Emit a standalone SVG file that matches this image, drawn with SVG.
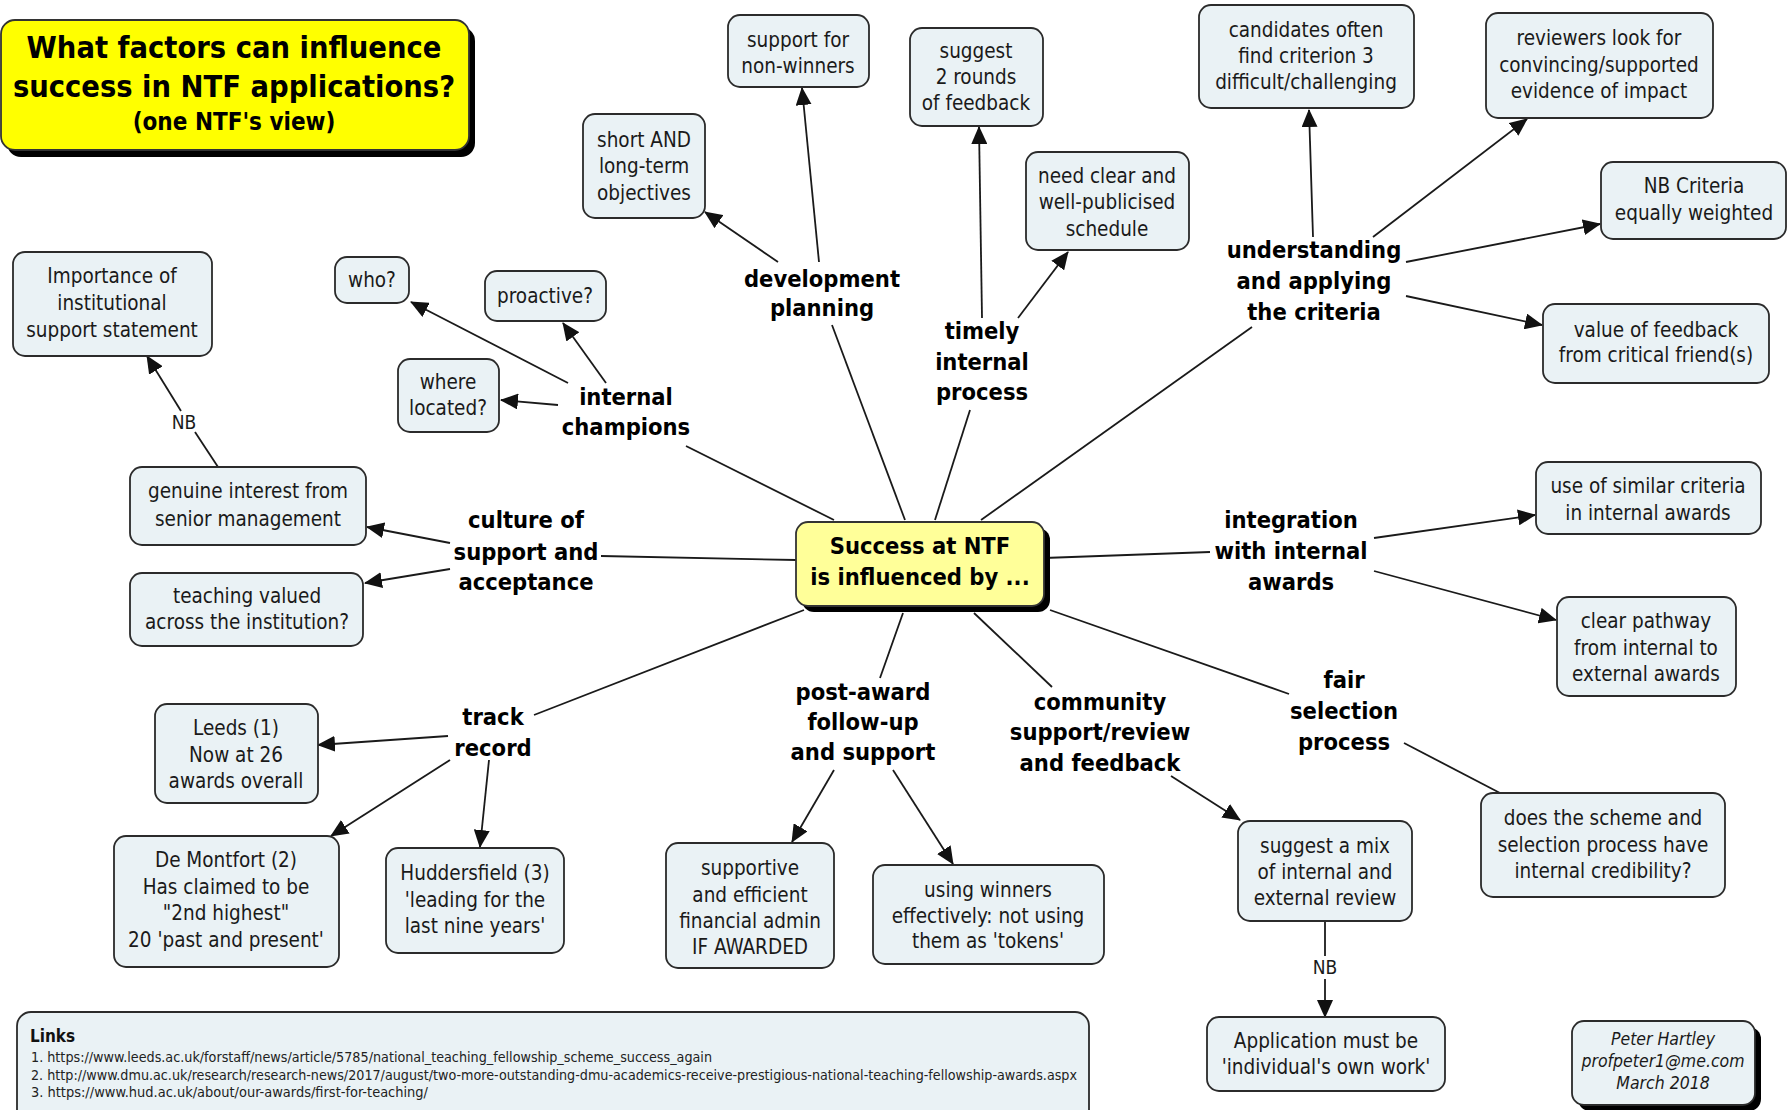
<svg xmlns="http://www.w3.org/2000/svg" width="1792" height="1110" viewBox="0 0 1792 1110">
<defs>
<marker id="ah" markerUnits="userSpaceOnUse" viewBox="0 0 18 16" refX="17" refY="8" markerWidth="18" markerHeight="16" orient="auto">
<path d="M0,0 L18,8 L0,16 z" fill="#111"/>
</marker>
</defs>
<style>
.n rect{fill:#EAF2F5;stroke:#2b2b2b;stroke-width:1.8}
.t{font-family:"DejaVu Sans Condensed","DejaVu Sans",Verdana,sans-serif;font-stretch:condensed;font-size:20.5px;fill:#1a1a1a;text-anchor:middle}
.l{font-family:"DejaVu Sans Condensed","DejaVu Sans",Verdana,sans-serif;font-stretch:condensed;font-weight:bold;font-size:23.5px;fill:#000;text-anchor:middle}
.c line{stroke:#1a1a1a;stroke-width:1.8;fill:none}
.c line.a{marker-end:url(#ah)}
.sh{fill:#000}
.lk{font-family:"DejaVu Sans Condensed","DejaVu Sans",sans-serif;font-stretch:condensed;font-size:14px;fill:#222}
</style>
<rect width="1792" height="1110" fill="#fff"/>

<g class="c" id="connectors">
<line x1="834" y1="520" x2="686" y2="446"/>
<line x1="905" y1="520" x2="832" y2="325"/>
<line x1="935" y1="520" x2="970" y2="410"/>
<line x1="981" y1="520" x2="1252" y2="327"/>
<line x1="796" y1="560" x2="601" y2="556"/>
<line x1="1044" y1="558" x2="1210" y2="552"/>
<line x1="804" y1="610" x2="534" y2="715"/>
<line x1="903" y1="613" x2="880" y2="678"/>
<line x1="974" y1="613" x2="1052" y2="687"/>
<line x1="1050" y1="610" x2="1289" y2="694"/>
<line class="a" x1="568" y1="383" x2="411" y2="302"/>
<line class="a" x1="606" y1="383" x2="563" y2="323"/>
<line class="a" x1="558" y1="405" x2="501" y2="400"/>
<line class="a" x1="778" y1="262" x2="705" y2="212"/>
<line class="a" x1="819" y1="262" x2="802" y2="88"/>
<line class="a" x1="982" y1="318" x2="979" y2="127"/>
<line class="a" x1="1018" y1="318" x2="1068" y2="252"/>
<line class="a" x1="1313" y1="237" x2="1309" y2="110"/>
<line class="a" x1="1373" y1="237" x2="1527" y2="119"/>
<line class="a" x1="1406" y1="262" x2="1600" y2="224"/>
<line class="a" x1="1406" y1="296" x2="1542" y2="325"/>
<line class="a" x1="450" y1="543" x2="367" y2="527"/>
<line class="a" x1="450" y1="569" x2="365" y2="583"/>
<line class="a" x1="1374" y1="538" x2="1535" y2="515"/>
<line class="a" x1="1374" y1="571" x2="1556" y2="620"/>
<line x1="1404" y1="743" x2="1500" y2="793"/>
<line class="a" x1="1171" y1="776" x2="1240" y2="820"/>
<line x1="1325" y1="921" x2="1325" y2="956"/>
<line class="a" x1="1325" y1="979" x2="1325" y2="1017"/>
<line class="a" x1="834" y1="770" x2="792" y2="842"/>
<line class="a" x1="893" y1="770" x2="953" y2="864"/>
<line class="a" x1="448" y1="736" x2="318" y2="745"/>
<line class="a" x1="450" y1="760" x2="331" y2="836"/>
<line class="a" x1="489" y1="760" x2="480" y2="847"/>
<line x1="218" y1="467" x2="195" y2="432"/>
<line class="a" x1="181" y1="411" x2="147" y2="356"/>
<text class="t" x="184" y="429" style="font-size:19px">NB</text>
<text class="t" x="1325" y="974" style="font-size:19px">NB</text>
</g>

<g id="title">
<rect class="sh" x="7" y="27" width="468" height="130" rx="14"/>
<rect x="1" y="20" width="468" height="130" rx="14" fill="#FFFF00" stroke="#333" stroke-width="1.8"/>
<text class="l" x="234" y="58" style="font-size:30.5px">What factors can influence</text>
<text class="l" x="234" y="97" style="font-size:30.5px">success in NTF applications?</text>
<text class="l" x="234" y="130" style="font-size:24px">(one NTF's view)</text>
</g>

<g id="center">
<rect class="sh" x="802" y="528" width="248" height="84" rx="12"/>
<rect x="796" y="522" width="248" height="84" rx="12" fill="#FFFF99" stroke="#333" stroke-width="1.8"/>
<text class="l" x="920" y="554">Success at NTF</text>
<text class="l" x="920" y="585">is influenced by ...</text>
</g>

<g id="lbl-champions"><text class="l" x="626" y="405">internal</text><text class="l" x="626" y="435">champions</text></g>
<g id="lbl-development"><text class="l" x="822" y="287">development</text><text class="l" x="822" y="316">planning</text></g>
<g id="lbl-timely"><text class="l" x="982" y="339">timely</text><text class="l" x="982" y="370">internal</text><text class="l" x="982" y="400">process</text></g>
<g id="lbl-understanding"><text class="l" x="1314" y="258">understanding</text><text class="l" x="1314" y="289">and applying</text><text class="l" x="1314" y="320">the criteria</text></g>
<g id="lbl-culture"><text class="l" x="526" y="528">culture of</text><text class="l" x="526" y="560">support and</text><text class="l" x="526" y="590">acceptance</text></g>
<g id="lbl-integration"><text class="l" x="1291" y="528">integration</text><text class="l" x="1291" y="559">with internal</text><text class="l" x="1291" y="590">awards</text></g>
<g id="lbl-fair"><text class="l" x="1344" y="688">fair</text><text class="l" x="1344" y="719">selection</text><text class="l" x="1344" y="750">process</text></g>
<g id="lbl-community"><text class="l" x="1100" y="710">community</text><text class="l" x="1100" y="740">support/review</text><text class="l" x="1100" y="771">and feedback</text></g>
<g id="lbl-postaward"><text class="l" x="863" y="700">post-award</text><text class="l" x="863" y="730">follow-up</text><text class="l" x="863" y="760">and support</text></g>
<g id="lbl-track"><text class="l" x="493" y="725">track</text><text class="l" x="493" y="756">record</text></g>

<g class="n" id="n-importance"><rect x="13" y="252" width="199" height="104" rx="12"/><text class="t" x="112" y="283">Importance of</text><text class="t" x="112" y="310">institutional</text><text class="t" x="112" y="337">support statement</text></g>
<g class="n" id="n-who"><rect x="335" y="257" width="74" height="46" rx="12"/><text class="t" x="372" y="287">who?</text></g>
<g class="n" id="n-proactive"><rect x="485" y="271" width="121" height="50" rx="12"/><text class="t" x="545" y="303">proactive?</text></g>
<g class="n" id="n-where"><rect x="398" y="359" width="101" height="73" rx="12"/><text class="t" x="448" y="389">where</text><text class="t" x="448" y="415">located?</text></g>
<g class="n" id="n-short"><rect x="583" y="114" width="122" height="104" rx="12"/><text class="t" x="644" y="147">short AND</text><text class="t" x="644" y="173">long-term</text><text class="t" x="644" y="200">objectives</text></g>
<g class="n" id="n-nonwinners"><rect x="728" y="15" width="141" height="72" rx="12"/><text class="t" x="798" y="47">support for</text><text class="t" x="798" y="73">non-winners</text></g>
<g class="n" id="n-rounds"><rect x="910" y="28" width="133" height="98" rx="12"/><text class="t" x="976" y="58">suggest</text><text class="t" x="976" y="84">2 rounds</text><text class="t" x="976" y="110">of feedback</text></g>
<g class="n" id="n-schedule"><rect x="1026" y="152" width="163" height="98" rx="12"/><text class="t" x="1107" y="183">need clear and</text><text class="t" x="1107" y="209">well-publicised</text><text class="t" x="1107" y="236">schedule</text></g>
<g class="n" id="n-candidates"><rect x="1199" y="5" width="215" height="103" rx="12"/><text class="t" x="1306" y="37">candidates often</text><text class="t" x="1306" y="63">find criterion 3</text><text class="t" x="1306" y="89">difficult/challenging</text></g>
<g class="n" id="n-reviewers"><rect x="1486" y="13" width="227" height="105" rx="12"/><text class="t" x="1599" y="45">reviewers look for</text><text class="t" x="1599" y="72">convincing/supported</text><text class="t" x="1599" y="98">evidence of impact</text></g>
<g class="n" id="n-nbcriteria"><rect x="1601" y="162" width="185" height="77" rx="12"/><text class="t" x="1694" y="193">NB Criteria</text><text class="t" x="1694" y="220">equally weighted</text></g>
<g class="n" id="n-critical"><rect x="1543" y="304" width="226" height="79" rx="12"/><text class="t" x="1656" y="337">value of feedback</text><text class="t" x="1656" y="362">from critical friend(s)</text></g>
<g class="n" id="n-similar"><rect x="1536" y="462" width="225" height="72" rx="12"/><text class="t" x="1648" y="493">use of similar criteria</text><text class="t" x="1648" y="520">in internal awards</text></g>
<g class="n" id="n-pathway"><rect x="1557" y="597" width="179" height="99" rx="12"/><text class="t" x="1646" y="628">clear pathway</text><text class="t" x="1646" y="655">from internal to</text><text class="t" x="1646" y="681">external awards</text></g>
<g class="n" id="n-credibility"><rect x="1481" y="793" width="244" height="104" rx="12"/><text class="t" x="1603" y="825">does the scheme and</text><text class="t" x="1603" y="852">selection process have</text><text class="t" x="1603" y="878">internal credibility?</text></g>
<g class="n" id="n-mix"><rect x="1238" y="821" width="174" height="100" rx="12"/><text class="t" x="1325" y="853">suggest a mix</text><text class="t" x="1325" y="879">of internal and</text><text class="t" x="1325" y="905">external review</text></g>
<g class="n" id="n-ownwork"><rect x="1207" y="1017" width="238" height="74" rx="12"/><text class="t" x="1326" y="1048">Application must be</text><text class="t" x="1326" y="1074">'individual's own work'</text></g>
<g class="n" id="n-author"><rect class="sh" x="1578" y="1027" width="183" height="84" rx="12" style="fill:#000;stroke:none"/><rect x="1572" y="1021" width="183" height="84" rx="12"/><text class="t" x="1663" y="1045" style="font-size:17.5px;font-style:italic">Peter Hartley</text><text class="t" x="1663" y="1067" style="font-size:17.5px;font-style:italic">profpeter1@me.com</text><text class="t" x="1663" y="1089" style="font-size:17.5px;font-style:italic">March 2018</text></g>
<g class="n" id="n-genuine"><rect x="130" y="467" width="236" height="78" rx="12"/><text class="t" x="248" y="498">genuine interest from</text><text class="t" x="248" y="526">senior management</text></g>
<g class="n" id="n-teaching"><rect x="130" y="573" width="233" height="73" rx="12"/><text class="t" x="247" y="603">teaching valued</text><text class="t" x="247" y="629">across the institution?</text></g>
<g class="n" id="n-leeds"><rect x="155" y="704" width="163" height="99" rx="12"/><text class="t" x="236" y="735">Leeds (1)</text><text class="t" x="236" y="762">Now at 26</text><text class="t" x="236" y="788">awards overall</text></g>
<g class="n" id="n-demontfort"><rect x="114" y="836" width="225" height="131" rx="12"/><text class="t" x="226" y="867">De Montfort (2)</text><text class="t" x="226" y="894">Has claimed to be</text><text class="t" x="226" y="920">"2nd highest"</text><text class="t" x="226" y="947">20 'past and present'</text></g>
<g class="n" id="n-huddersfield"><rect x="386" y="848" width="178" height="105" rx="12"/><text class="t" x="475" y="880">Huddersfield (3)</text><text class="t" x="475" y="907">'leading for the</text><text class="t" x="475" y="933">last nine years'</text></g>
<g class="n" id="n-financial"><rect x="666" y="843" width="168" height="125" rx="12"/><text class="t" x="750" y="875">supportive</text><text class="t" x="750" y="902">and efficient</text><text class="t" x="750" y="928">financial admin</text><text class="t" x="750" y="954">IF AWARDED</text></g>
<g class="n" id="n-tokens"><rect x="873" y="865" width="231" height="99" rx="12"/><text class="t" x="988" y="897">using winners</text><text class="t" x="988" y="923">effectively: not using</text><text class="t" x="988" y="948">them as 'tokens'</text></g>
<g class="n" id="n-links"><rect x="17" y="1012" width="1072" height="120" rx="14"/>
<text x="30" y="1042" style="font-family:'DejaVu Sans Condensed','DejaVu Sans',sans-serif;font-stretch:condensed;font-weight:bold;font-size:17px;fill:#111">Links</text>
<text class="lk" x="31" y="1062" textLength="681" lengthAdjust="spacingAndGlyphs">1. https://www.leeds.ac.uk/forstaff/news/article/5785/national_teaching_fellowship_scheme_success_again</text>
<text class="lk" x="31" y="1080" textLength="1046" lengthAdjust="spacingAndGlyphs">2. http://www.dmu.ac.uk/research/research-news/2017/august/two-more-outstanding-dmu-academics-receive-prestigious-national-teaching-fellowship-awards.aspx</text>
<text class="lk" x="31" y="1097" textLength="397" lengthAdjust="spacingAndGlyphs">3. https://www.hud.ac.uk/about/our-awards/first-for-teaching/</text>
</g>
</svg>
